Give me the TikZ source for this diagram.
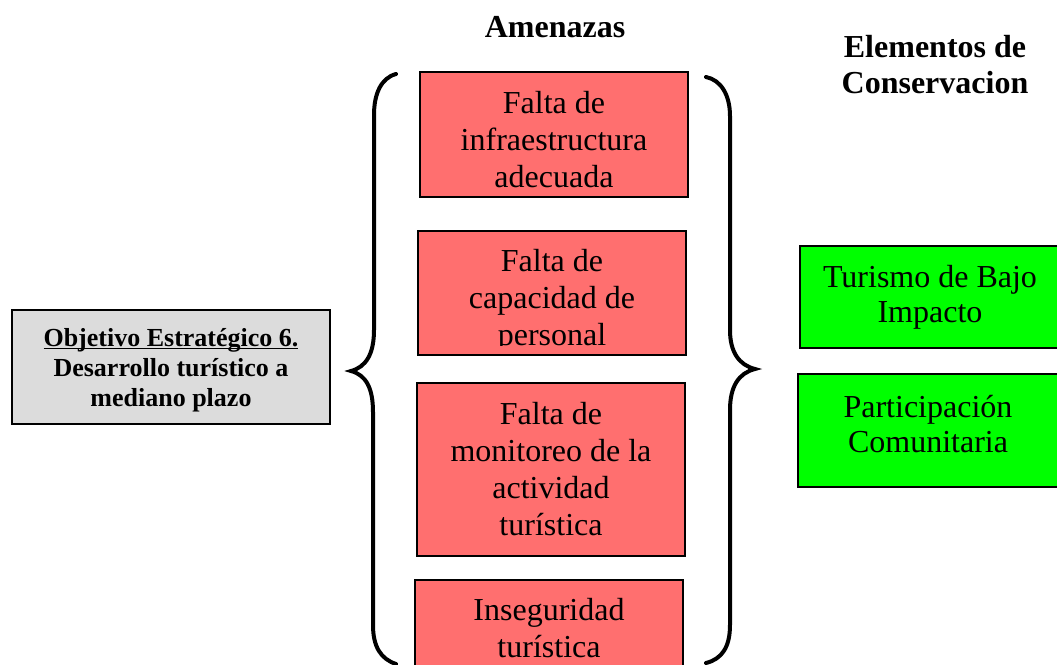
\documentclass[tikz,border=0pt]{standalone}
\usepackage{fontspec}
\setmainfont{Liberation Serif}
\usepackage{xcolor}
\usepackage{tikz}
\usetikzlibrary{positioning}
\definecolor{threatred}{HTML}{FF6F6F}
\definecolor{elemgreen}{HTML}{00FF00}
\definecolor{goalgray}{HTML}{DCDCDC}
\newcommand\baseul[1]{\leavevmode\setbox0\hbox{#1}\rlap{\rule[-1.6pt]{\wd0}{0.6pt}}\box0}

\begin{document}
\begin{tikzpicture}[x=0.5pt,y=-0.5pt,semithick,
                    box/.style={draw=black,line width=1pt,inner sep=0pt},
                    threat/.style={box,fill=threatred,minimum width=134pt},
                    element/.style={box,fill=elemgreen,minimum width=130pt},
                    goal/.style={box,fill=goalgray,minimum width=159pt,minimum height=57pt},
                    txt/.style={align=center,inner sep=0pt,font=\fontsize{16}{18.5}\selectfont},
                    elemtxt/.style={txt,font=\fontsize{16}{17.5}\selectfont},
                    goaltxt/.style={txt,font=\fontsize{13}{15}\selectfont\bfseries},
                    heading/.style={align=center,font=\fontsize{16}{18}\selectfont\bfseries},
                    brace/.style={line width=2pt,line cap=round}]
\clip (0,0) rectangle (1057,665);
% titles
\node[heading] (amen) at (555,27) {Amenazas};
\node[heading] (cons) at (935,65) {Elementos de\\Conservacion};
% objective
\node[goal] (obj) at (171,367) {};
\node[goaltxt] (objtxt) at (171,370) {\baseul{Objetivo Estratégico 6.}\\Desarrollo turístico a\\mediano plazo};
% threats
\node[threat,minimum height=62.5pt] (t1) at (554,134.5) {};
\node[txt] (t1txt) at (554,139.5) {Falta de\\infraestructura\\adecuada};
\node[threat,minimum height=62pt] (t2) at (552,293) {};
\begin{scope}
\clip (418,231) rectangle (686,345);
\node[txt] (t2txt) at (552,301) {Falta de\\capacidad de\\personal};
\end{scope}
\node[threat,minimum height=86.5pt] (t3) at (551,469.5) {};
\node[txt] (t3txt) at (551,469.5) {Falta de\\monitoreo de la\\actividad\\turística};
\node[threat,minimum height=48pt] (t4) at (549,628) {};
\node[txt] (t4txt) at (549,628) {Inseguridad\\turística};
% conservation elements
\node[element,minimum height=51pt] (e1) at (930,297) {};
\node[elemtxt] (e1txt) at (930,297) {Turismo de Bajo\\Impacto};
\node[element,minimum height=56.5pt] (e2) at (928,430.5) {};
\node[elemtxt] (e2txt) at (928,424.5) {Participación\\Comunitaria};
% braces
\draw[brace] (396,74) .. controls (381,78) and (374,94) .. (374,115) -- (374,330)
             .. controls (374,354) and (366,367) .. (351,371)
             .. controls (366,375) and (373,388) .. (373,412) -- (373,625)
             .. controls (373,647) and (381,659) .. (396,664);
\draw[brace] (706,77) .. controls (721,80) and (730,95) .. (730,116) -- (730,330)
             .. controls (730,352) and (739,365) .. (755,369)
             .. controls (739,373) and (730,386) .. (730,410) -- (730,625)
             .. controls (730,647) and (722,659) .. (706,663);
\end{tikzpicture}
\end{document}
